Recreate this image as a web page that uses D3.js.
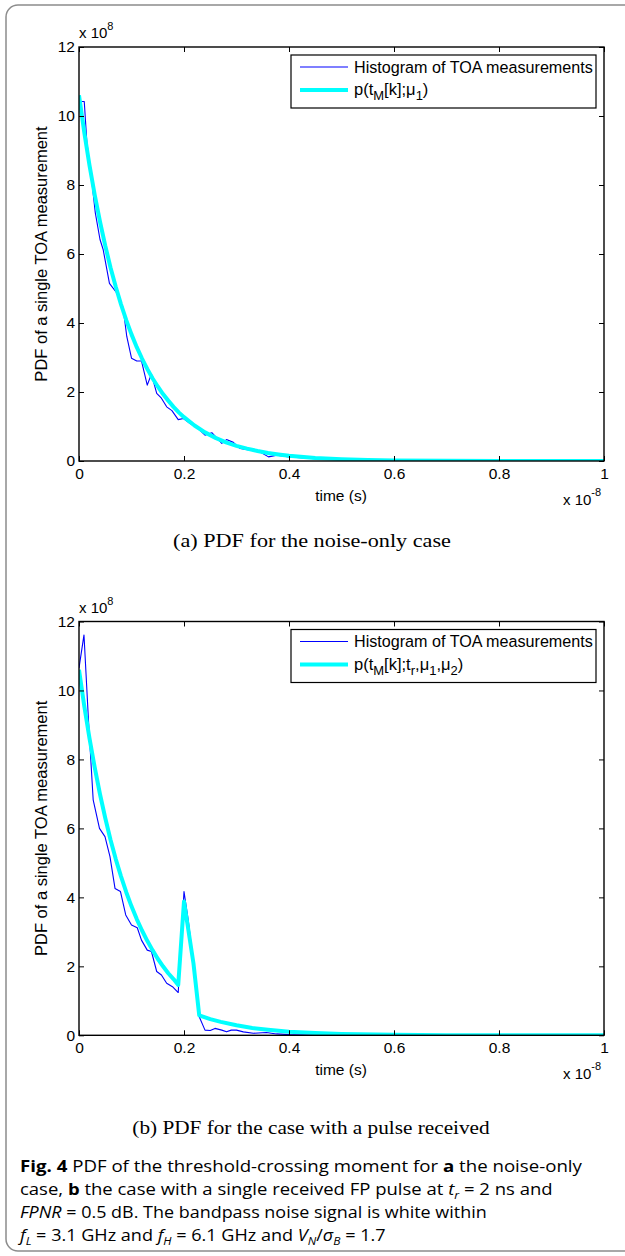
<!DOCTYPE html>
<html><head><meta charset="utf-8">
<script src="https://cdn.jsdelivr.net/npm/d3@7"></script>
<style>body{margin:0;background:#fff}svg{display:block}</style>
</head><body>
<svg id="c" width="625" height="1256"></svg>
<script>
// ---------- data ----------
const xTicks = [0, 0.2, 0.4, 0.6, 0.8, 1];
const xTickLabels = ["0", "0.2", "0.4", "0.6", "0.8", "1"];
const yTicks = [0, 2, 4, 6, 8, 10, 12];
const yTickLabels = ["0", "2", "4", "6", "8", "10", "12"];

// panel (a): histogram of TOA measurements (time in 1e-8 s, pdf in 1e8)
const histA_t = [0.005, 0.010, 0.015, 0.024, 0.031, 0.040, 0.046, 0.058, 0.072, 0.084, 0.091, 0.100, 0.110, 0.119, 0.130, 0.138, 0.148, 0.157, 0.167, 0.177, 0.189, 0.199, 0.211, 0.227, 0.240, 0.253, 0.272, 0.281, 0.294, 0.307, 0.345, 0.361, 0.377, 0.400, 0.45, 0.50, 0.60, 0.70, 0.80, 0.90, 1.00];
const histA_v = [10.42, 10.42, 9.24, 8.17, 7.20, 6.42, 6.13, 5.15, 4.87, 4.44, 3.61, 2.98, 2.90, 2.90, 2.20, 2.52, 1.96, 1.82, 1.57, 1.46, 1.20, 1.23, 1.09, 0.94, 0.75, 0.82, 0.51, 0.62, 0.54, 0.36, 0.26, 0.12, 0.17, 0.12, 0.07, 0.04, 0.02, 0.01, 0.005, 0.002, 0.0];
// panel (a): model p(tM[k];mu1)
const fitA_t = [0, 0.01, 0.02, 0.03, 0.04, 0.05, 0.06, 0.07, 0.08, 0.09, 0.10, 0.11, 0.12, 0.13, 0.14, 0.15, 0.16, 0.17, 0.18, 0.19, 0.20, 0.22, 0.24, 0.26, 0.28, 0.30, 0.32, 0.34, 0.36, 0.38, 0.40, 0.45, 0.50, 0.55, 0.60, 0.70, 0.80, 1.00];
const fitA_v = [10.6, 9.53, 8.57, 7.71, 6.94, 6.24, 5.61, 5.05, 4.54, 4.08, 3.67, 3.30, 2.97, 2.67, 2.40, 2.16, 1.94, 1.75, 1.57, 1.41, 1.27, 1.03, 0.83, 0.67, 0.54, 0.44, 0.36, 0.29, 0.23, 0.19, 0.15, 0.09, 0.053, 0.031, 0.018, 0.006, 0.002, 0.0];

// panel (b): histogram
const histB_t = [0, 0.0095, 0.018, 0.027, 0.039, 0.0495, 0.059, 0.0686, 0.079, 0.089, 0.100, 0.111, 0.119, 0.130, 0.138, 0.148, 0.157, 0.167, 0.178, 0.189, 0.200, 0.208, 0.218, 0.229, 0.240, 0.250, 0.259, 0.272, 0.281, 0.290, 0.300, 0.313, 0.332, 0.357, 0.376, 0.401, 0.45, 0.50, 0.60, 0.80, 1.00];
const histB_v = [10.65, 11.61, 9.15, 6.83, 6.00, 5.76, 5.18, 4.26, 4.17, 3.49, 3.20, 3.12, 2.76, 2.47, 2.43, 1.85, 1.75, 1.51, 1.41, 1.24, 4.17, 3.35, 2.09, 0.54, 0.15, 0.14, 0.20, 0.15, 0.10, 0.15, 0.15, 0.10, 0.06, 0.08, 0.04, 0.02, 0.01, 0.005, 0.002, 0.0, 0.0];
// panel (b): model p(tM[k];tr,mu1,mu2)
const fitB_t = [0, 0.01, 0.02, 0.03, 0.04, 0.05, 0.06, 0.07, 0.08, 0.09, 0.10, 0.11, 0.12, 0.13, 0.14, 0.15, 0.16, 0.17, 0.18, 0.189, 0.200, 0.218, 0.229, 0.25, 0.27, 0.30, 0.33, 0.36, 0.40, 0.45, 0.50, 0.60, 0.70, 0.80, 1.00];
const fitB_v = [10.6, 9.55, 8.61, 7.76, 6.99, 6.30, 5.67, 5.11, 4.61, 4.15, 3.74, 3.37, 3.04, 2.74, 2.47, 2.22, 2.00, 1.80, 1.63, 1.46, 3.88, 2.09, 0.58, 0.47, 0.39, 0.29, 0.21, 0.16, 0.10, 0.065, 0.04, 0.015, 0.005, 0.002, 0.0];

const legendHist = "Histogram of TOA measurements";
const yLabel = "PDF of a single TOA measurement";
const xLabel = "time (s)";
const subCapA = "(a) PDF for the noise-only case";
const subCapB = "(b) PDF for the case with a pulse received";

// ---------- drawing ----------
const svg = d3.select("#c");
const SANS = "'Liberation Sans', Arial, Helvetica, sans-serif";
const SERIF = "'Liberation Serif', 'DejaVu Serif', serif";
const CAP = "'Open Sans', 'Noto Sans', sans-serif";

svg.append("rect").attr("x", 6).attr("y", 5).attr("width", 650).attr("height", 1246)
  .attr("rx", 12).attr("fill", "none").attr("stroke", "#8c8c8c").attr("stroke-width", 1.5);

// stretch a text horizontally to a target width
function fit(sel, target, ax) {
  const n = sel.node();
  const w = n.getBBox().width;
  if (!w) return;
  const k = target / w;
  sel.attr("transform", `translate(${ax},0) scale(${k},1) translate(${-ax},0)`);
}

// rich text segments: {t, b, i, sub, sup, fs}
function rich(g, x, y, segs, font, size, anchor) {
  const t = g.append("text").attr("x", x).attr("y", y)
    .attr("font-family", font).attr("font-size", size)
    .attr("text-anchor", anchor || "start").attr("fill", "#000");
  let shift = 0;
  segs.forEach(s => {
    const seg = typeof s === "string" ? {t: s} : s;
    const target = seg.sub ? seg.sub : (seg.sup ? -seg.sup : 0);
    const ts = t.append("tspan").text(seg.t).attr("dy", target - shift);
    shift = target;
    if (seg.b) ts.attr("font-weight", "bold");
    if (seg.i) ts.attr("font-style", "italic");
    if (seg.fs) ts.attr("font-size", seg.fs);
  });
  return t;
}

const X0 = 79, X1 = 604;

function panel(top, bot, histT, histV, fitT, fitV, legendFitSegs, id) {
  const g = svg.append("g");
  const x = d3.scaleLinear().domain([0, 1]).range([X0, X1]);
  const y = d3.scaleLinear().domain([0, 12]).range([bot, top]);

  g.append("clipPath").attr("id", "clip" + id).append("rect")
    .attr("x", X0).attr("y", top).attr("width", X1 - X0).attr("height", bot - top);

  const line = d3.line().x(d => x(d[0])).y(d => y(d[1]));
  const plot = g.append("g").attr("clip-path", `url(#clip${id})`);
  plot.append("path").datum(d3.zip(histT, histV)).attr("d", line)
    .attr("fill", "none").attr("stroke", "#0000ff").attr("stroke-width", 1.1)
    .attr("stroke-linejoin", "round");
  plot.append("path").datum(d3.zip(fitT, fitV)).attr("d", line)
    .attr("fill", "none").attr("stroke", "#00ffff").attr("stroke-width", 4)
    .attr("stroke-linejoin", "round");

  // axes
  const styleAxis = a => {
    a.select(".domain").remove();
    a.selectAll(".tick line").attr("stroke", "#000").attr("stroke-width", 1);
    a.selectAll("text").attr("font-family", SANS).attr("font-size", 15.5).attr("fill", "#000");
  };
  g.append("g").attr("transform", `translate(0,${bot})`)
    .call(d3.axisBottom(x).tickValues(xTicks).tickFormat((d, i) => xTickLabels[i])
      .tickSizeInner(-5).tickSizeOuter(0).tickPadding(7)).call(styleAxis);
  g.append("g").attr("transform", `translate(0,${top})`)
    .call(d3.axisTop(x).tickValues(xTicks).tickFormat("").tickSizeInner(-5).tickSizeOuter(0)).call(styleAxis);
  g.append("g").attr("transform", `translate(${X0},0)`)
    .call(d3.axisLeft(y).tickValues(yTicks).tickFormat((d, i) => yTickLabels[i])
      .tickSizeInner(-5).tickSizeOuter(0).tickPadding(4)).call(styleAxis);
  g.append("g").attr("transform", `translate(${X1},0)`)
    .call(d3.axisRight(y).tickValues(yTicks).tickFormat("").tickSizeInner(-5).tickSizeOuter(0)).call(styleAxis);

  g.append("rect").attr("x", X0).attr("y", top).attr("width", X1 - X0).attr("height", bot - top)
    .attr("fill", "none").attr("stroke", "#000").attr("stroke-width", 1.4);

  // exponent labels
  rich(g, X0, top - 9, ["x 10", {t: "8", sup: 8, fs: 11}], SANS, 15);
  rich(g, 563, bot + 44, ["x 10", {t: "-8", sup: 9, fs: 11}], SANS, 15);
  g.append("text").attr("x", 341).attr("y", bot + 40).attr("text-anchor", "middle")
    .attr("font-family", SANS).attr("font-size", 15.5).text(xLabel);

  g.append("text").attr("transform", `translate(47,${(top + bot) / 2}) rotate(-90)`)
    .attr("text-anchor", "middle").attr("font-family", SANS).attr("font-size", 16.5).text(yLabel);

  // legend
  const lx = 291, lw = 305, ly = top + 8, lh = 53;
  g.append("rect").attr("x", lx).attr("y", ly).attr("width", lw).attr("height", lh)
    .attr("fill", "#fff").attr("stroke", "#000").attr("stroke-width", 1.2);
  g.append("line").attr("x1", 300).attr("x2", 348).attr("y1", top + 20).attr("y2", top + 20)
    .attr("stroke", "#0000ff").attr("stroke-width", 1.1);
  g.append("line").attr("x1", 300).attr("x2", 348).attr("y1", top + 43).attr("y2", top + 43)
    .attr("stroke", "#00ffff").attr("stroke-width", 4);
  const t1 = g.append("text").attr("x", 354).attr("y", top + 26).attr("font-family", SANS)
    .attr("font-size", 16.5).text(legendHist);
  fit(t1, 239, 354);
  rich(g, 354, top + 48, legendFitSegs, SANS, 16.5);
}

panel(47, 461, histA_t, histA_v, fitA_t, fitA_v,
  ["p(t", {t: "M", sub: 5, fs: 13}, "[k];μ", {t: "1", sub: 5, fs: 13}, ")"], "a");
panel(621.5, 1035.3, histB_t, histB_v, fitB_t, fitB_v,
  ["p(t", {t: "M", sub: 5, fs: 13}, "[k];t", {t: "r", sub: 5, fs: 13}, ",μ", {t: "1", sub: 5, fs: 13}, ",μ", {t: "2", sub: 5, fs: 13}, ")"], "b");

// sub captions
const ca = svg.append("text").attr("x", 312).attr("y", 547).attr("text-anchor", "middle")
  .attr("font-family", SERIF).attr("font-size", 19.5).text(subCapA);
fit(ca, 278, 312);
const cb = svg.append("text").attr("x", 311).attr("y", 1134).attr("text-anchor", "middle")
  .attr("font-family", SERIF).attr("font-size", 19.5).text(subCapB);
fit(cb, 358, 311);

// figure caption
const capLines = [
  [{t: "Fig. 4", b: true}, " PDF of the threshold-crossing moment for ", {t: "a", b: true}, " the noise-only"],
  ["case, ", {t: "b", b: true}, " the case with a single received FP pulse at ", {t: "t", i: true}, {t: "r", i: true, sub: 4, fs: 11}, " = 2 ns and"],
  [{t: "FPNR", i: true}, " = 0.5 dB. The bandpass noise signal is white within"],
  [{t: "f", i: true}, {t: "L", i: true, sub: 4, fs: 11}, " = 3.1 GHz and ", {t: "f", i: true}, {t: "H", i: true, sub: 4, fs: 11}, " = 6.1 GHz and ", {t: "V", i: true}, {t: "N", i: true, sub: 4, fs: 11}, "/", {t: "σ", i: true}, {t: "B", i: true, sub: 4, fs: 11}, " = 1.7"]
];
const capW = [563, 533, 467, 368];
capLines.forEach((segs, i) => {
  const t = rich(svg, 20, 1172 + i * 23, segs, CAP, 16.5);
  fit(t, capW[i], 20);
});
</script>
</body></html>
